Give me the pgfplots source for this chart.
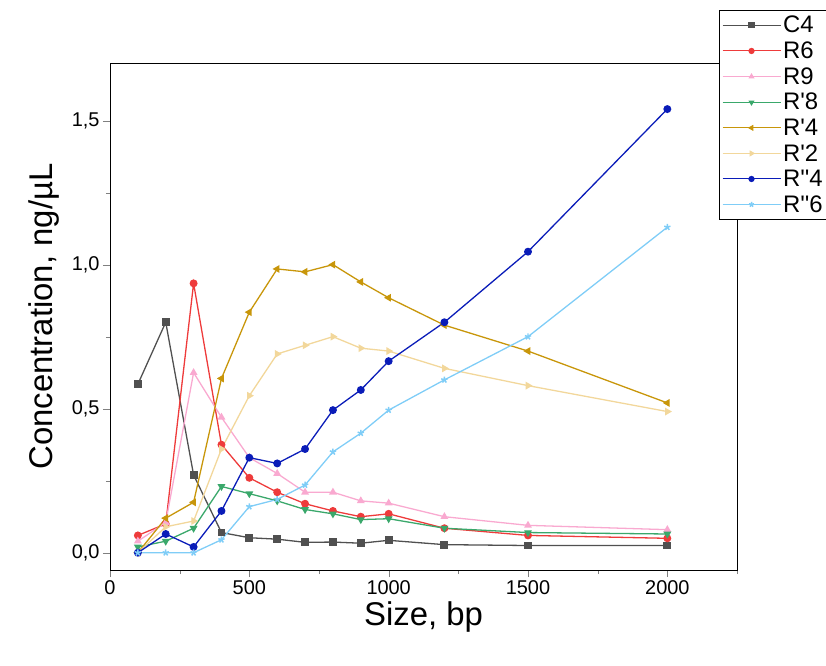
\documentclass[border=0pt]{standalone}
\usepackage{pgfplots}
\pgfplotsset{compat=1.18}
\usepackage{fontspec}
\setmainfont{Liberation Sans}[Ligatures=TeXOff]
\definecolor{cC}{HTML}{505050}
\definecolor{cR6}{HTML}{EE3B3B}
\definecolor{cR9}{HTML}{F9A9D0}
\definecolor{cR8}{HTML}{3AA86B}
\definecolor{cR4}{HTML}{C8960A}
\definecolor{cR2}{HTML}{F2D79B}
\definecolor{cQ4}{HTML}{0A1CB8}
\definecolor{cQ6}{HTML}{7FCDF7}
\begin{document}
\begin{tikzpicture}
\begin{axis}[scale only axis, width=627bp, height=507bp,
 xmin=0, xmax=2250, ymin=-0.06, ymax=1.7,
 xtick={0,500,1000,1500,2000}, minor xtick={250,750,1250,1750,2250},
 ytick={0,0.5,1,1.5}, minor ytick={0.25,0.75,1.25},
 tick align=outside, tick pos=left,
 major tick length=7bp, minor tick length=4bp,
 /pgf/number format/assume math mode=true,
 yticklabel style={/pgf/number format/.cd,fixed,fixed zerofill,precision=1,use comma},
 xticklabel style={/pgf/number format/.cd,fixed,1000 sep={}},
 ticklabel style={font=\fontsize{20}{24}\selectfont},
 xlabel={Size, bp}, ylabel={Concentration, ng/µL},
 ylabel style={yshift=6bp},
 label style={font=\fontsize{33}{38}\selectfont},
 every axis plot/.append style={line width=1.3pt, mark size=3.3pt},
 legend cell align=left,
 legend image code/.code={\draw[mark repeat=2,mark phase=2,line width=1pt,mark size=2.6pt] plot coordinates {(0bp,0bp)(29bp,0bp)(58bp,0bp)};},
 legend style={at={(rel axis cs:0.971,1.1045)}, anchor=north west, font=\fontsize{24}{27}\selectfont, draw=black, row sep=3.5bp, inner xsep=3bp, inner ysep=4bp},
]
\addplot[cC, mark=square*] coordinates {(100,0.585)(200,0.80)(300,0.27)(400,0.07)(500,0.052)(600,0.047)(700,0.036)(800,0.037)(900,0.033)(1000,0.043)(1200,0.028)(1500,0.025)(2000,0.025)};
\addlegendentry{C4}
\addplot[cR6, mark=*] coordinates {(100,0.06)(200,0.10)(300,0.935)(400,0.375)(500,0.26)(600,0.21)(700,0.17)(800,0.145)(900,0.125)(1000,0.135)(1200,0.085)(1500,0.06)(2000,0.05)};
\addlegendentry{R6}
\addplot[cR9, mark=triangle*] coordinates {(100,0.04)(200,0.105)(300,0.625)(400,0.47)(500,0.33)(600,0.275)(700,0.21)(800,0.21)(900,0.18)(1000,0.172)(1200,0.125)(1500,0.095)(2000,0.08)};
\addlegendentry{R9}
\addplot[cR8, mark=triangle*, mark options={rotate=180}] coordinates {(100,0.02)(200,0.04)(300,0.085)(400,0.23)(500,0.205)(600,0.18)(700,0.15)(800,0.135)(900,0.115)(1000,0.118)(1200,0.085)(1500,0.07)(2000,0.065)};
\addlegendentry{R'8}
\addplot[cR4, mark=triangle*, mark options={rotate=90}] coordinates {(100,0.0)(200,0.12)(300,0.175)(400,0.605)(500,0.835)(600,0.985)(700,0.975)(800,1.0)(900,0.94)(1000,0.885)(1200,0.79)(1500,0.70)(2000,0.52)};
\addlegendentry{R'4}
\addplot[cR2, mark=triangle*, mark options={rotate=-90}] coordinates {(100,0.0)(200,0.09)(300,0.11)(400,0.36)(500,0.545)(600,0.69)(700,0.72)(800,0.75)(900,0.71)(1000,0.70)(1200,0.64)(1500,0.58)(2000,0.49)};
\addlegendentry{R'2}
\addplot[cQ4, mark=*] coordinates {(100,0.0)(200,0.065)(300,0.02)(400,0.145)(500,0.33)(600,0.31)(700,0.36)(800,0.495)(900,0.565)(1000,0.665)(1200,0.80)(1500,1.045)(2000,1.54)};
\addlegendentry{R''4}
\addplot[cQ6, mark=star, mark options={line width=1.5pt}] coordinates {(100,0.0)(200,0.0)(300,0.0)(400,0.045)(500,0.16)(600,0.185)(700,0.235)(800,0.35)(900,0.415)(1000,0.495)(1200,0.60)(1500,0.75)(2000,1.13)};
\addlegendentry{R''6}
\end{axis}
\pgfresetboundingbox
\path ([xshift=-110bp,yshift=-96bp]current axis.south west) rectangle ([xshift=89bp,yshift=63bp]current axis.north east);
\end{tikzpicture}
\end{document}
